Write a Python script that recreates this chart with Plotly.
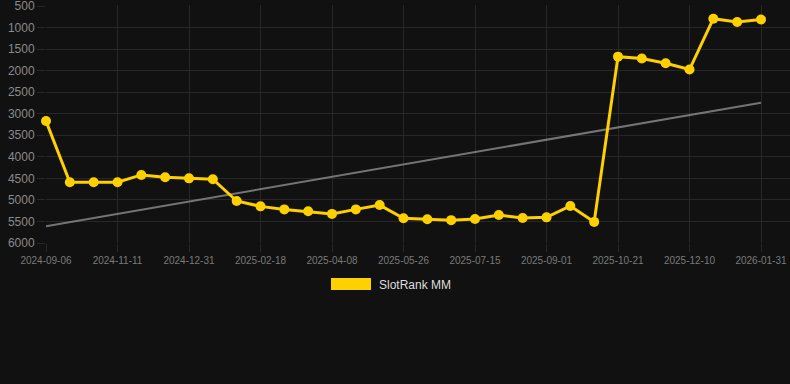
import numpy as np
import plotly.graph_objects as go

dates = [
    "2024-09-06", "2024-09-28", "2024-10-20", "2024-11-11", "2024-11-28", "2024-12-14",
    "2024-12-31", "2025-01-16", "2025-02-01", "2025-02-18", "2025-03-06", "2025-03-22",
    "2025-04-08", "2025-04-24", "2025-05-10", "2025-05-26", "2025-06-11", "2025-06-28",
    "2025-07-15", "2025-07-31", "2025-08-16", "2025-09-01", "2025-09-17", "2025-10-04",
    "2025-10-21", "2025-11-06", "2025-11-23", "2025-12-10", "2025-12-27", "2026-01-13",
    "2026-01-31",
]
rank = [
    3170, 4590, 4590, 4590, 4420, 4475, 4500, 4520, 5025, 5150, 5220, 5265,
    5325, 5220, 5120, 5425, 5450, 5470, 5445, 5350, 5420, 5405, 5140, 5510,
    1675, 1720, 1830, 1975, 795, 870, 815,
]
tick_labels = dates[::3]
y_ticks = [500, 1000, 1500, 2000, 2500, 3000, 3500, 4000, 4500, 5000, 5500, 6000]
series_name = "SlotRank MM"

YELLOW = "#FFD000"
GRID = "#272727"
BG = "#111111"

idx = np.arange(len(rank))
slope, intercept = np.polyfit(idx, rank, 1)
trend = slope * idx + intercept

fig = go.Figure()
fig.add_trace(go.Scatter(
    x=dates, y=trend, mode="lines",
    line=dict(color="rgba(150,150,150,0.75)", width=2),
    showlegend=False, hoverinfo="skip", cliponaxis=False,
))
fig.add_trace(go.Scatter(
    x=dates, y=rank, mode="lines+markers", name=series_name,
    line=dict(color=YELLOW, width=3),
    marker=dict(color=YELLOW, size=10),
    showlegend=False, cliponaxis=False,
))

W, H = 790, 384
L, R, T, B = 46, 0, 5, 141
pw, ph = W - L - R, H - T - B
spacing = (761 - 46) / 30.0
xmax = 30 + (790 - 761) / spacing
upp = (6000 - 500) / (243 - 6)
ytop = 500 - upp * (6 - T)

def px(x):
    return (x - L) / pw

def py(y):
    return (H - B - y) / ph

fig.add_shape(type="rect", xref="paper", yref="paper",
              x0=px(331), x1=px(371), y0=py(290), y1=py(278),
              fillcolor=YELLOW, line=dict(width=0))
fig.add_annotation(xref="paper", yref="paper", x=px(377), y=py(285),
                   text=series_name, showarrow=False, xanchor="left", yanchor="middle",
                   font=dict(size=12, color="#dddddd", family="Liberation Sans, Arial, sans-serif"))

fig.update_layout(
    width=W, height=H,
    margin=dict(l=L, r=R, t=T, b=B),
    paper_bgcolor=BG, plot_bgcolor=BG,
    font=dict(family="Liberation Sans, Arial, sans-serif"),
    showlegend=False,
    xaxis=dict(
        type="category", categoryorder="array", categoryarray=dates,
        range=[0, xmax],
        tickmode="array", tickvals=tick_labels, ticktext=tick_labels,
        showgrid=True, gridcolor=GRID, gridwidth=1,
        ticks="outside", ticklen=8, tickcolor=GRID,
        tickfont=dict(size=10, color="#7a7a7a"),
        showline=False, zeroline=False,
    ),
    yaxis=dict(
        range=[6000, ytop], tickmode="array", tickvals=y_ticks,
        showgrid=True, gridcolor=GRID, gridwidth=1,
        ticks="outside", ticklen=8, tickcolor=GRID,
        tickfont=dict(size=12, color="#8a8a8a"),
        ticklabeloverflow="allow",
        showline=False, zeroline=False,
    ),
)

fig.write_html(
    "out.html",
    config={"displayModeBar": False, "responsive": False},
    post_script="document.body.style.margin='0';document.body.style.background='#111111';",
)
